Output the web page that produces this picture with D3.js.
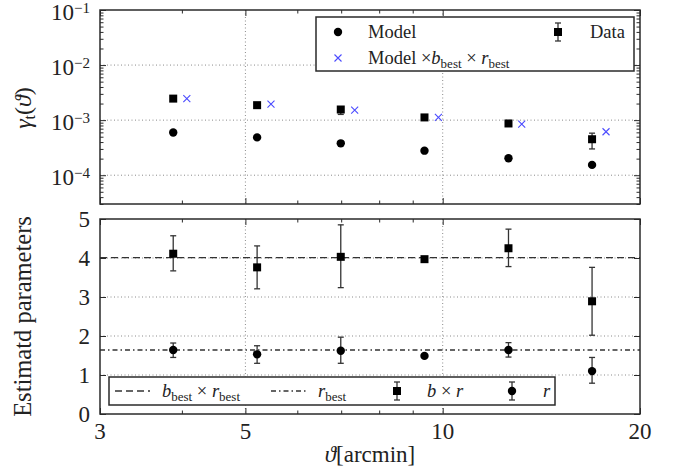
<!DOCTYPE html>
<html><head><meta charset="utf-8">
<script src="https://cdn.jsdelivr.net/npm/d3@7"></script>
<style>
body{margin:0;background:#fff;}
text{font-family:"Liberation Serif","DejaVu Serif",serif;fill:#222;}
</style></head>
<body><svg id="c" width="684" height="473"></svg>
<script>
// ---- data ----
const thetaVals = [3.88, 5.21, 6.99, 9.38, 12.6, 16.9];
const thetaCross = [4.07, 5.47, 7.34, 9.85, 13.2, 17.75];
const modelVals = [5.98e-4, 4.86e-4, 3.79e-4, 2.79e-4, 2.03e-4, 1.54e-4];
const dataVals = [2.46e-3, 1.87e-3, 1.56e-3, 1.12e-3, 8.7e-4, 4.5e-4];
const dataLo = [2.3e-3, 1.72e-3, 1.27e-3, 1.05e-3, 8.1e-4, 3.0e-4];
const dataHi = [2.62e-3, 2.05e-3, 1.75e-3, 1.2e-3, 9.4e-4, 5.8e-4];
const scaledModelVals = [2.46e-3, 1.95e-3, 1.52e-3, 1.12e-3, 8.5e-4, 6.15e-4];
const brVals = [4.11, 3.76, 4.03, 3.97, 4.25, 2.89];
const brLo = [3.67, 3.21, 3.24, 3.92, 3.78, 2.02];
const brHi = [4.57, 4.31, 4.85, 4.02, 4.74, 3.76];
const rVals = [1.64, 1.53, 1.62, 1.49, 1.64, 1.10];
const rLo = [1.45, 1.30, 1.30, 1.45, 1.46, 0.79];
const rHi = [1.82, 1.75, 1.97, 1.53, 1.83, 1.45];
const bBestRBest = 4.01;
const rBest = 1.64;
const xMajorTicks = [3, 5, 10, 20];
const xMinorTicks = [4, 6, 7, 8, 9];
const xGridTicks = [5, 10];
const yTopExps = [-1, -2, -3, -4];
const yBotTicks = [0, 1, 2, 3, 4, 5];

const svg = d3.select("#c");
const L = 100, R = 640;
const x = d3.scaleLog().domain([3, 20]).range([L, R]);
const yT = d3.scaleLog().domain([3e-5, 1e-1]).range([204, 10]);
const yB = d3.scaleLinear().domain([0, 5]).range([414, 219]);

const frameCol = "#2a2a2a", gridCol = "#8a8a8a";

function drawPanel(y, top, bot, yMaj, yMin) {
  const g = svg.append("g");
  xGridTicks.forEach(v => g.append("line").attr("x1", x(v)).attr("x2", x(v)).attr("y1", top).attr("y2", bot)
    .attr("stroke", gridCol).attr("stroke-width", 1).attr("stroke-dasharray", "1,2.5"));
  yMaj.forEach(v => { const yy = y(v); if (yy > top + 1 && yy < bot - 1)
    g.append("line").attr("x1", L).attr("x2", R).attr("y1", yy).attr("y2", yy)
     .attr("stroke", gridCol).attr("stroke-width", 1).attr("stroke-dasharray", "1,2.5"); });
  const mk = (axis, tr) => { const a = g.append("g").attr("transform", tr).call(axis);
    a.select(".domain").remove(); a.selectAll("text").remove();
    a.selectAll("line").attr("stroke", frameCol).attr("stroke-width", 1); };
  mk(d3.axisBottom(x).tickValues(xMajorTicks).tickSize(-6).tickFormat(""), `translate(0,${bot})`);
  mk(d3.axisBottom(x).tickValues(xMinorTicks).tickSize(-3.5).tickFormat(""), `translate(0,${bot})`);
  mk(d3.axisTop(x).tickValues(xMajorTicks).tickSize(-6).tickFormat(""), `translate(0,${top})`);
  mk(d3.axisTop(x).tickValues(xMinorTicks).tickSize(-3.5).tickFormat(""), `translate(0,${top})`);
  mk(d3.axisLeft(y).tickValues(yMaj).tickSize(-6).tickFormat(""), `translate(${L},0)`);
  mk(d3.axisRight(y).tickValues(yMaj).tickSize(-6).tickFormat(""), `translate(${R},0)`);
  if (yMin.length) {
    mk(d3.axisLeft(y).tickValues(yMin).tickSize(-3.5).tickFormat(""), `translate(${L},0)`);
    mk(d3.axisRight(y).tickValues(yMin).tickSize(-3.5).tickFormat(""), `translate(${R},0)`);
  }
  return g;
}

// ---------- top panel ----------
const topMaj = yTopExps.map(e => Math.pow(10, e));
const topMin = [];
for (let e = -5; e <= -2; e++) for (let m = 2; m <= 9; m++) { const v = m * Math.pow(10, e); if (v >= 3e-5 && v < 0.1) topMin.push(v); }
drawPanel(yT, 10, 204, topMaj, topMin);

yTopExps.forEach(e => {
  const t = svg.append("text").attr("x", 90).attr("y", yT(Math.pow(10, e)) + 10).attr("text-anchor", "end").attr("font-size", 23);
  t.append("tspan").text("10");
  t.append("tspan").attr("dy", -7).attr("font-size", 15).text("\u2212" + Math.abs(e));
});
{
  const t = svg.append("text").attr("transform", "translate(31,108) rotate(-90)").attr("text-anchor", "middle").attr("font-size", 24);
  t.append("tspan").attr("font-style", "italic").text("\u03B3");
  t.append("tspan").attr("font-size", 16).attr("dy", 4).text("t");
  t.append("tspan").attr("dy", -4).text("(");
  t.append("tspan").attr("font-style", "italic").text("\u03D1");
  t.append("tspan").text(")");
}

const eb = (g, xs, ys, lo, hi, yS) => {
  xs.forEach((xv, i) => {
    const cx = x(xv);
    g.append("line").attr("x1", cx).attr("x2", cx).attr("y1", yS(lo[i])).attr("y2", yS(hi[i])).attr("stroke", "#333").attr("stroke-width", 1.3);
    [lo[i], hi[i]].forEach(v => g.append("line").attr("x1", cx - 3).attr("x2", cx + 3).attr("y1", yS(v)).attr("y2", yS(v)).attr("stroke", "#333").attr("stroke-width", 1.3));
  });
};
const gT = svg.append("g");
eb(gT, thetaVals, dataVals, dataLo, dataHi, yT);
gT.selectAll("rect.d").data(dataVals).enter().append("rect")
  .attr("x", (d, i) => x(thetaVals[i]) - 4).attr("y", d => yT(d) - 4).attr("width", 8).attr("height", 8).attr("fill", "#000");
gT.selectAll("circle.m").data(modelVals).enter().append("circle")
  .attr("cx", (d, i) => x(thetaVals[i])).attr("cy", d => yT(d)).attr("r", 4.2).attr("fill", "#000");
gT.selectAll("path.x").data(scaledModelVals).enter().append("path")
  .attr("transform", (d, i) => `translate(${x(thetaCross[i])},${yT(d)})`)
  .attr("d", "M-3.5,-3.5L3.5,3.5M-3.5,3.5L3.5,-3.5").attr("stroke", "#4b4bff").attr("stroke-width", 1.1).attr("fill", "none");

svg.append("rect").attr("x", L).attr("y", 10).attr("width", R - L).attr("height", 194).attr("fill", "none").attr("stroke", frameCol).attr("stroke-width", 1.5);

{
  const g = svg.append("g");
  g.append("rect").attr("x", 316).attr("y", 17).attr("width", 318).attr("height", 54).attr("fill", "#fff").attr("stroke", frameCol).attr("stroke-width", 1.5);
  g.append("circle").attr("cx", 338).attr("cy", 32).attr("r", 4.2).attr("fill", "#000");
  g.append("text").attr("x", 368).attr("y", 38).attr("font-size", 18.5).text("Model");
  g.append("line").attr("x1", 558).attr("x2", 558).attr("y1", 23).attr("y2", 41).attr("stroke", "#333").attr("stroke-width", 1.3);
  [23, 41].forEach(v => g.append("line").attr("x1", 555).attr("x2", 561).attr("y1", v).attr("y2", v).attr("stroke", "#333").attr("stroke-width", 1.3));
  g.append("rect").attr("x", 554).attr("y", 28).attr("width", 8).attr("height", 8).attr("fill", "#000");
  g.append("text").attr("x", 590).attr("y", 38).attr("font-size", 18.5).text("Data");
  g.append("path").attr("transform", "translate(338,58)").attr("d", "M-3.5,-3.5L3.5,3.5M-3.5,3.5L3.5,-3.5").attr("stroke", "#4b4bff").attr("stroke-width", 1.1);
  const t = g.append("text").attr("x", 368).attr("y", 64).attr("font-size", 18.5);
  t.append("tspan").text("Model \u00D7");
  t.append("tspan").attr("font-style", "italic").text("b");
  t.append("tspan").attr("font-size", 13).attr("dy", 4).text("best");
  t.append("tspan").attr("dy", -4).text(" \u00D7 ");
  t.append("tspan").attr("font-style", "italic").text("r");
  t.append("tspan").attr("font-size", 13).attr("dy", 4).text("best");
}

// ---------- bottom panel ----------
drawPanel(yB, 219, 414, yBotTicks, []);
yBotTicks.forEach(v => svg.append("text").attr("x", 90).attr("y", yB(v) + 8).attr("text-anchor", "end").attr("font-size", 23).text(v));
xMajorTicks.forEach(v => svg.append("text").attr("x", x(v)).attr("y", 439).attr("text-anchor", "middle").attr("font-size", 23).text(v));
svg.append("text").attr("transform", "translate(31,316.5) rotate(-90)").attr("text-anchor", "middle").attr("font-size", 24.5).text("Estimatd parameters");
{
  const t = svg.append("text").attr("x", 370).attr("y", 462).attr("text-anchor", "middle").attr("font-size", 23);
  t.append("tspan").attr("font-style", "italic").text("\u03D1");
  t.append("tspan").text("[arcmin]");
}
svg.append("line").attr("x1", L).attr("x2", R).attr("y1", yB(bBestRBest)).attr("y2", yB(bBestRBest))
  .attr("stroke", "#333").attr("stroke-width", 1.4).attr("stroke-dasharray", "7,4");
svg.append("line").attr("x1", L).attr("x2", R).attr("y1", yB(rBest)).attr("y2", yB(rBest))
  .attr("stroke", "#333").attr("stroke-width", 1.4).attr("stroke-dasharray", "5,3,1.5,3");

const gB = svg.append("g");
eb(gB, thetaVals, brVals, brLo, brHi, yB);
eb(gB, thetaVals, rVals, rLo, rHi, yB);
gB.selectAll("rect.b").data(brVals).enter().append("rect")
  .attr("x", (d, i) => x(thetaVals[i]) - 4).attr("y", d => yB(d) - 4).attr("width", 8).attr("height", 8).attr("fill", "#000");
gB.selectAll("circle.r").data(rVals).enter().append("circle")
  .attr("cx", (d, i) => x(thetaVals[i])).attr("cy", d => yB(d)).attr("r", 4.2).attr("fill", "#000");

{
  const g = svg.append("g");
  g.append("rect").attr("x", 109).attr("y", 377).attr("width", 446).attr("height", 28).attr("fill", "#fff").attr("stroke", frameCol).attr("stroke-width", 1.5);
  g.append("line").attr("x1", 115).attr("x2", 150).attr("y1", 391).attr("y2", 391).attr("stroke", "#333").attr("stroke-width", 1.4).attr("stroke-dasharray", "7,4");
  let t = g.append("text").attr("x", 162).attr("y", 397).attr("font-size", 18.5);
  t.append("tspan").attr("font-style", "italic").text("b");
  t.append("tspan").attr("font-size", 13).attr("dy", 4).text("best");
  t.append("tspan").attr("dy", -4).text(" \u00D7 ");
  t.append("tspan").attr("font-style", "italic").text("r");
  t.append("tspan").attr("font-size", 13).attr("dy", 4).text("best");
  g.append("line").attr("x1", 271).attr("x2", 307).attr("y1", 391).attr("y2", 391).attr("stroke", "#333").attr("stroke-width", 1.4).attr("stroke-dasharray", "5,3,1.5,3");
  t = g.append("text").attr("x", 318).attr("y", 397).attr("font-size", 18.5);
  t.append("tspan").attr("font-style", "italic").text("r");
  t.append("tspan").attr("font-size", 13).attr("dy", 4).text("best");
  [[397, "rect"], [512, "circle"]].forEach(([cx, kind]) => {
    g.append("line").attr("x1", cx).attr("x2", cx).attr("y1", 382).attr("y2", 400).attr("stroke", "#333").attr("stroke-width", 1.3);
    [382, 400].forEach(v => g.append("line").attr("x1", cx - 3).attr("x2", cx + 3).attr("y1", v).attr("y2", v).attr("stroke", "#333").attr("stroke-width", 1.3));
    if (kind === "rect") g.append("rect").attr("x", cx - 4).attr("y", 387).attr("width", 8).attr("height", 8).attr("fill", "#000");
    else g.append("circle").attr("cx", cx).attr("cy", 391).attr("r", 4.2).attr("fill", "#000");
  });
  t = g.append("text").attr("x", 427).attr("y", 397).attr("font-size", 18.5);
  t.append("tspan").attr("font-style", "italic").text("b");
  t.append("tspan").text(" \u00D7 ");
  t.append("tspan").attr("font-style", "italic").text("r");
  g.append("text").attr("x", 543).attr("y", 397).attr("font-size", 18.5).attr("font-style", "italic").text("r");
}
svg.append("rect").attr("x", L).attr("y", 219).attr("width", R - L).attr("height", 195).attr("fill", "none").attr("stroke", frameCol).attr("stroke-width", 1.5);
</script></body></html>
